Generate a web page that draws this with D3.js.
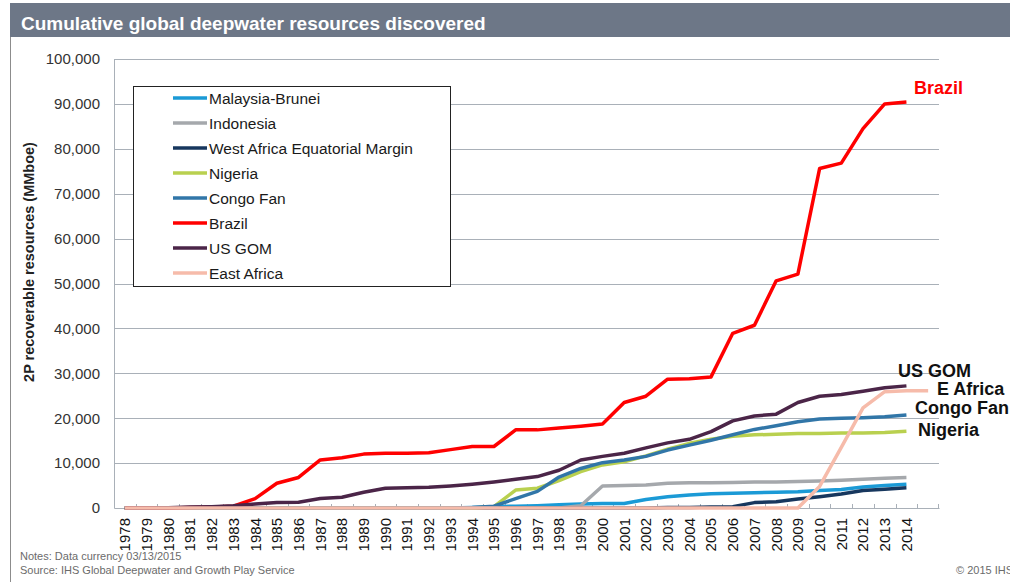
<!DOCTYPE html>
<html>
<head>
<meta charset="utf-8">
<script src="https://cdn.jsdelivr.net/npm/d3@7"></script>
<style>
  body { margin: 0; background: #fff; }
  svg { font-family: "Liberation Sans", Arial, sans-serif; display: block; }
</style>
</head>
<body>
<div id="chart"></div>
<script>
// years on the category axis (last band has no label)
const years = d3.range(1978, 2016).map(String);
const yTicks = d3.range(0, 100001, 10000);

// cumulative resources, MMboe, 1978..2014
const malaysiaBrunei = [0,0,0,0,0,0,0,0,0,0,0,0,0,0,0,0,100,300,400,500,700,900,1000,1000,1900,2500,2900,3200,3300,3400,3500,3600,3900,4100,4700,5000,5300];
const indonesia = [0,0,0,0,0,0,0,0,0,0,0,0,0,0,0,0,0,0,0,0,0,500,4900,5000,5100,5500,5600,5600,5700,5800,5800,5900,6000,6200,6400,6600,6800];
const westAfricaEqMargin = [0,0,0,0,0,0,0,0,0,0,0,0,0,0,0,0,0,0,0,0,0,0,0,0,0,100,100,200,300,1200,1400,2000,2500,3100,3900,4200,4500];
const nigeria = [0,0,0,0,0,0,0,0,0,0,0,0,0,0,0,0,0,300,4000,4400,6100,8100,9600,10300,11600,13100,14400,15300,16000,16300,16400,16600,16600,16700,16700,16800,17100];
const congoFan = [0,0,0,0,0,0,0,0,0,0,0,0,0,0,0,0,100,400,2100,3700,6900,8800,10100,10700,11500,12900,14000,15100,16300,17500,18300,19200,19800,20000,20100,20300,20700];
const brazil = [0,0,0,100,200,400,2100,5500,6800,10700,11200,12000,12200,12200,12300,13000,13700,13700,17400,17400,17800,18200,18700,23500,24900,28700,28800,29200,38900,40700,50600,52100,75600,76800,84500,90000,90400];
const usGom = [0,0,50,200,300,500,900,1200,1300,2100,2400,3500,4400,4500,4600,4900,5300,5800,6400,7000,8400,10700,11500,12200,13400,14500,15300,17000,19400,20500,20900,23500,24900,25300,26000,26800,27200];
// East Africa runs one year further (1978..2015)
const eastAfrica = [0,0,0,0,0,0,0,0,0,0,0,0,0,0,0,0,0,0,0,0,0,0,0,0,0,0,0,0,0,0,0,0,4800,13500,22300,25900,26100,26100];

const seriesNames = ["Malaysia-Brunei","Indonesia","West Africa Equatorial Margin","Nigeria","Congo Fan","Brazil","US GOM","East Africa"];
const seriesValues = [malaysiaBrunei, indonesia, westAfricaEqMargin, nigeria, congoFan, brazil, usGom, eastAfrica];
const seriesColors = ["#1B9AD6","#A5A8AC","#17375E","#B9D04F","#3176A8","#FF0000","#4B2548","#F6BBAA"];

// end-of-line labels
const endLabels = ["Brazil","US GOM","E Africa","Congo Fan","Nigeria"];

const w = 1010, h = 582;
const margin = { top: 59, right: 71, bottom: 74, left: 114 };

const svg = d3.select("#chart")
    .append("svg")
    .attr("width", w)
    .attr("height", h);

// Title bar and left frame line
svg.append("rect")
    .attr("x", 10).attr("y", 3)
    .attr("width", w - 10).attr("height", 34)
    .attr("fill", "#6D7787");

svg.append("text")
    .attr("x", 21).attr("y", 30)
    .attr("fill", "#fff")
    .style("font-size", "19px")
    .style("font-weight", "bold")
    .text("Cumulative global deepwater resources discovered");

svg.append("line")
    .attr("x1", 10.5).attr("x2", 10.5)
    .attr("y1", 37).attr("y2", h)
    .attr("stroke", "#8C8C8C");

// Scales
const xScale = d3.scaleBand()
    .domain(years)
    .range([margin.left, w - margin.right])
    .padding(0);

const yScale = d3.scaleLinear()
    .domain([0, 100000])
    .range([h - margin.bottom, margin.top]);

const xc = d => xScale(d) + xScale.bandwidth() / 2;

// Gridlines
svg.append("g")
    .selectAll("line")
    .data(yTicks.slice(1))
    .enter()
    .append("line")
    .attr("x1", margin.left)
    .attr("x2", w - margin.right)
    .attr("y1", d => Math.round(yScale(d)) + 0.5)
    .attr("y2", d => Math.round(yScale(d)) + 0.5)
    .attr("stroke", "#A9B0B8")
    .attr("stroke-width", 1);

// Y axis
const yAxis = svg.append("g")
    .attr("transform", `translate(${margin.left},0)`)
    .call(d3.axisLeft(yScale).tickValues(yTicks).tickFormat(d3.format(",")).tickSize(0).tickPadding(14));
yAxis.select(".domain").attr("stroke", "#A9B0B8");
yAxis.selectAll("text")
    .style("font-size", "15px")
    .attr("fill", "#333");

svg.append("text")
    .attr("transform", "rotate(-90)")
    .attr("x", -262)
    .attr("y", 34)
    .style("text-anchor", "middle")
    .style("font-size", "14.5px")
    .style("font-weight", "bold")
    .attr("fill", "#222")
    .text("2P recoverable resources (MMboe)");

// X axis
const xAxis = svg.append("g")
    .attr("transform", `translate(0,${h - margin.bottom})`)
    .call(d3.axisBottom(xScale).tickSize(0).tickFormat(d => d === "2015" ? "" : d));
xAxis.select(".domain").attr("stroke", "#A9B0B8");
xAxis.selectAll("text")
    .attr("transform", "rotate(-90)")
    .attr("x", -10)
    .attr("y", 0)
    .attr("dy", "0.36em")
    .style("text-anchor", "end")
    .style("font-size", "15px")
    .attr("fill", "#111");

// tick marks between categories
svg.append("g")
    .selectAll("line")
    .data(years.slice(1).concat(["end"]))
    .enter()
    .append("line")
    .attr("x1", d => d === "end" ? w - margin.right - 0.5 : Math.round(xScale(d)) + 0.5)
    .attr("x2", d => d === "end" ? w - margin.right - 0.5 : Math.round(xScale(d)) + 0.5)
    .attr("y1", h - margin.bottom)
    .attr("y2", h - margin.bottom - 4)
    .attr("stroke", "#A9B0B8");

// Lines
const line = d3.line()
    .x((d, i) => xc(years[i]))
    .y(d => yScale(d));

svg.append("g")
    .selectAll("path")
    .data(seriesValues)
    .enter()
    .append("path")
    .attr("d", line)
    .attr("fill", "none")
    .attr("stroke", (d, i) => seriesColors[i])
    .attr("stroke-width", 3.5)
    .attr("stroke-linejoin", "round");

// Legend
const legend = svg.append("g");
legend.append("rect")
    .attr("x", 133.5).attr("y", 86.5)
    .attr("width", 317).attr("height", 200)
    .attr("fill", "#fff")
    .attr("stroke", "#222");

const items = legend.selectAll("g.item")
    .data(seriesNames)
    .enter()
    .append("g")
    .attr("class", "item")
    .attr("transform", (d, i) => `translate(0,${98 + i * 25})`);

items.append("line")
    .attr("x1", 173).attr("x2", 207)
    .attr("stroke", (d, i) => seriesColors[i])
    .attr("stroke-width", 3.5);

items.append("text")
    .attr("x", 209)
    .attr("dy", "0.36em")
    .style("font-size", "15.5px")
    .attr("fill", "#1a1a1a")
    .text(d => d);

// End labels
const labelPos = [[914, 94, "#FF0000"], [898, 377, "#111"], [937, 395, "#111"], [915, 414, "#111"], [918, 436, "#111"]];
svg.append("g")
    .selectAll("text")
    .data(endLabels)
    .enter()
    .append("text")
    .attr("x", (d, i) => labelPos[i][0])
    .attr("y", (d, i) => labelPos[i][1])
    .attr("fill", (d, i) => labelPos[i][2])
    .style("font-size", "18px")
    .style("font-weight", "bold")
    .text(d => d);

// Notes
svg.append("text")
    .attr("x", 20).attr("y", 560)
    .style("font-size", "11px").attr("fill", "#6B6B6B")
    .text("Notes: Data currency 03/13/2015");
svg.append("text")
    .attr("x", 20).attr("y", 574)
    .style("font-size", "11px").attr("fill", "#6B6B6B")
    .text("Source: IHS Global Deepwater and Growth Play Service");
svg.append("text")
    .attr("x", 956).attr("y", 574)
    .style("font-size", "11px").attr("fill", "#6B6B6B")
    .text("\u00A9 2015 IHS");
</script>
</body>
</html>
